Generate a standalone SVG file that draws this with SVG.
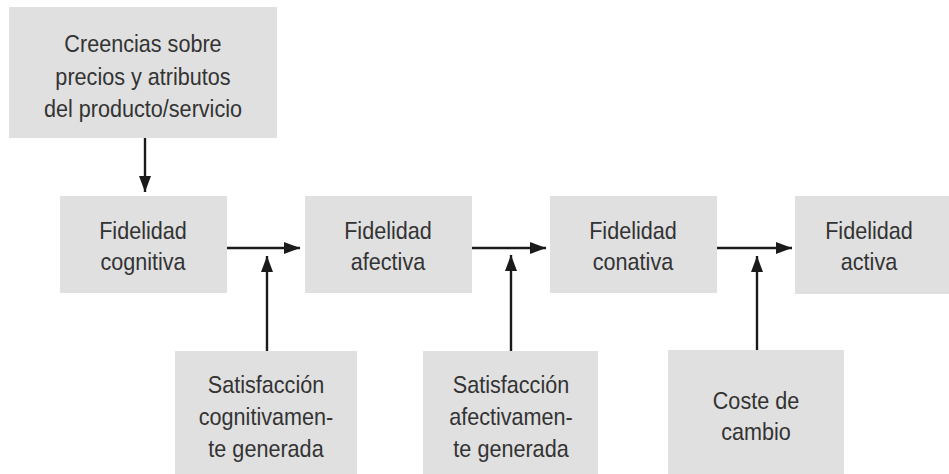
<svg xmlns="http://www.w3.org/2000/svg" width="949" height="474" viewBox="0 0 949 474">
<style>
.box{fill:#e0e0e0}
text{font-family:"Liberation Sans",Arial,sans-serif;font-size:24px;fill:#333;text-anchor:middle;transform-box:fill-box;transform-origin:center;transform:scaleX(0.9)}
.c{stroke:#1a1a1a;stroke-width:2.4;fill:none;marker-end:url(#ah)}
</style>
<defs>
<marker id="ah" markerUnits="userSpaceOnUse" markerWidth="16" markerHeight="12" refX="16" refY="6" orient="auto">
<path d="M0,0 L16,6 L0,12 z" fill="#1a1a1a"/>
</marker>
</defs>
<rect width="949" height="474" fill="#fff"/>
<g id="creencias">
<rect class="box" x="9" y="7" width="268" height="131"/>
<text x="143" y="52">Creencias sobre</text>
<text x="143" y="85">precios y atributos</text>
<text x="143" y="117">del producto/servicio</text>
</g>
<g id="cognitiva">
<rect class="box" x="60" y="196" width="167" height="97"/>
<text x="143" y="239">Fidelidad</text>
<text x="143" y="270">cognitiva</text>
</g>
<g id="afectiva">
<rect class="box" x="305" y="196" width="167" height="97"/>
<text x="388" y="239">Fidelidad</text>
<text x="388" y="270">afectiva</text>
</g>
<g id="conativa">
<rect class="box" x="550" y="196" width="167" height="97"/>
<text x="633" y="239">Fidelidad</text>
<text x="633" y="270">conativa</text>
</g>
<g id="activa">
<rect class="box" x="795" y="196" width="154" height="98"/>
<text x="869" y="239">Fidelidad</text>
<text x="869" y="270">activa</text>
</g>
<g id="satcog">
<rect class="box" x="175" y="351" width="182" height="123"/>
<text x="266" y="393">Satisfacción</text>
<text x="266" y="425">cognitivamen-</text>
<text x="266" y="457">te generada</text>
</g>
<g id="satafec">
<rect class="box" x="423" y="351" width="175" height="123"/>
<text x="511" y="393">Satisfacción</text>
<text x="511" y="425">afectivamen-</text>
<text x="511" y="457">te generada</text>
</g>
<g id="coste">
<rect class="box" x="668" y="350" width="176" height="124"/>
<text x="756" y="409">Coste de</text>
<text x="756" y="440">cambio</text>
</g>
<g id="connectors">
<line class="c" x1="145" y1="138" x2="145" y2="192"/>
<line class="c" x1="227" y1="248" x2="300" y2="248"/>
<line class="c" x1="472" y1="248" x2="546" y2="248"/>
<line class="c" x1="717" y1="248" x2="792" y2="248"/>
<line class="c" x1="267" y1="351" x2="267" y2="256"/>
<line class="c" x1="511" y1="351" x2="511" y2="255"/>
<line class="c" x1="757" y1="350" x2="757" y2="256"/>
</g>
</svg>
